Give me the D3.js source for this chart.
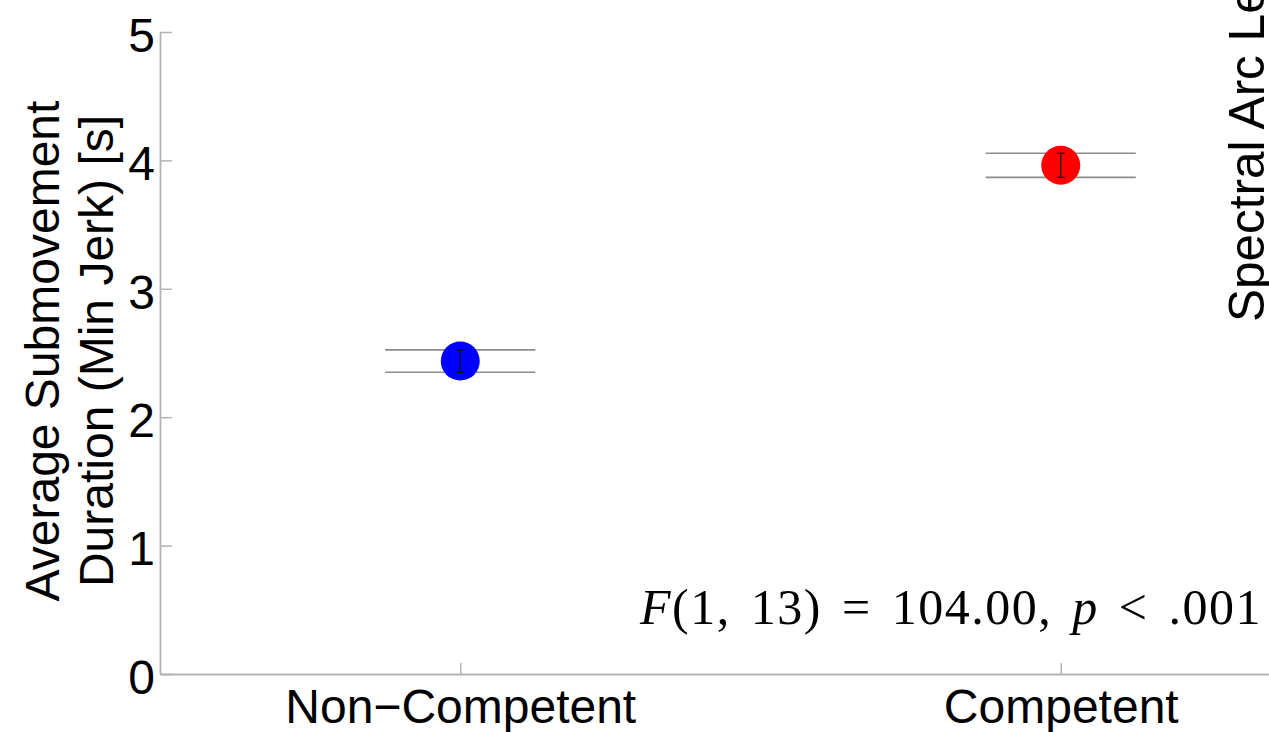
<!DOCTYPE html>
<html>
<head>
<meta charset="utf-8">
<script src="https://cdn.jsdelivr.net/npm/d3@7"></script>
<style>
  html, body { margin: 0; padding: 0; background: #fff; }
  svg { display: block; }
</style>
</head>
<body>
<script>
// Group means of submovement duration with standard errors
const categories = ["Non\u2212Competent", "Competent"];
const positions = [1, 2];
const means = [2.437, 3.962];
const errors = [0.087, 0.094];
const colors = ["#0000ff", "#ff0000"];
const yTicks = [0, 1, 2, 3, 4, 5];
const yLabelLines = ["Average Submovement", "Duration (Min Jerk) [s]"];
const neighbourLabel = "Spectral Arc Length";

const W = 1269, H = 732;
const svg = d3.select("body").append("svg").attr("width", W).attr("height", H);

const x = d3.scaleLinear().domain([0.5, 2.5]).range([160, 1361]);
const y = d3.scaleLinear().domain([0, 5]).range([674, 32]);

const font = "'Liberation Sans', Arial, Helvetica, sans-serif";
const axisColor = "#b3b3b3";

// y axis
const gy = svg.append("g").attr("transform", `translate(${x(0.5)},0)`)
  .call(d3.axisLeft(y).tickValues(yTicks).tickFormat(d3.format("d"))
    .tickSize(-12).tickSizeOuter(0).tickPadding(5));
// x axis
const gx = svg.append("g").attr("transform", `translate(0,${y(0)})`)
  .call(d3.axisBottom(x).tickValues(positions).tickFormat((d, i) => categories[i])
    .tickSize(-11).tickSizeOuter(0).tickPadding(15));

[gx, gy].forEach(g => {
  g.select(".domain").attr("stroke", axisColor).attr("stroke-width", 1.8);
  g.selectAll(".tick line").attr("stroke", axisColor).attr("stroke-width", 1.5);
  g.selectAll(".tick text").attr("fill", "#000")
    .style("font-family", font).style("font-size", "48px");
});
gy.selectAll(".tick text").attr("dy", "0.4em");

// y axis title (two lines)
yLabelLines.forEach((t, i) => {
  svg.append("text")
    .attr("transform", `translate(${59 + i * 54},${351}) rotate(-90)`)
    .attr("text-anchor", "middle")
    .style("font-family", font).style("font-size", "48px")
    .attr("fill", "#000")
    .text(t);
});

// title of the adjacent panel, running past the right edge
svg.append("text")
  .attr("transform", `translate(1264,322) rotate(-90)`)
  .attr("text-anchor", "start")
  .style("font-family", font).style("font-size", "49.5px")
  .attr("fill", "#000")
  .text(neighbourLabel);

// error band lines
const halfW = 0.125;
const data = positions.map((p, i) => ({ p, m: means[i], e: errors[i], c: colors[i] }));
const marks = svg.append("g");
data.forEach(d => {
  [d.m + d.e, d.m - d.e].forEach(v => {
    marks.append("line")
      .attr("x1", x(d.p - halfW)).attr("x2", x(d.p + halfW))
      .attr("y1", y(v)).attr("y2", y(v))
      .attr("stroke", "#8c8c8c").attr("stroke-width", 1.6);
  });
});

// mean markers
marks.selectAll("circle").data(data).join("circle")
  .attr("cx", d => x(d.p)).attr("cy", d => y(d.m))
  .attr("r", 19.5).attr("fill", d => d.c);

// error bars
data.forEach(d => {
  const cx = x(d.p), cap = 4;
  marks.append("line")
    .attr("x1", cx).attr("x2", cx)
    .attr("y1", y(d.m + d.e)).attr("y2", y(d.m - d.e))
    .attr("stroke", "#111").attr("stroke-width", 1.3);
  [d.m + d.e, d.m - d.e].forEach(v => {
    marks.append("line")
      .attr("x1", cx - cap).attr("x2", cx + cap)
      .attr("y1", y(v)).attr("y2", y(v))
      .attr("stroke", "#111").attr("stroke-width", 1.3);
  });
});

// test statistic
const stat = svg.append("text")
  .attr("x", 1262).attr("y", 624)
  .attr("text-anchor", "end")
  .style("white-space", "pre")
  .style("font-family", "'Liberation Serif', 'Times New Roman', serif")
  .style("font-size", "50px")
  .style("letter-spacing", "1.5px")
  .attr("fill", "#000");
stat.append("tspan").style("font-style", "italic").text("F");
stat.append("tspan").text("(1, 13) = 104.00, ");
stat.append("tspan").style("font-style", "italic").text("p");
stat.append("tspan").text(" < .001");
const targetW = 622;
const len = stat.node().getComputedTextLength();
const nSpaces = (stat.text().match(/ /g) || []).length;
if (len < targetW) stat.style("word-spacing", ((targetW - len) / nSpaces) + "px");
</script>
</body>
</html>
